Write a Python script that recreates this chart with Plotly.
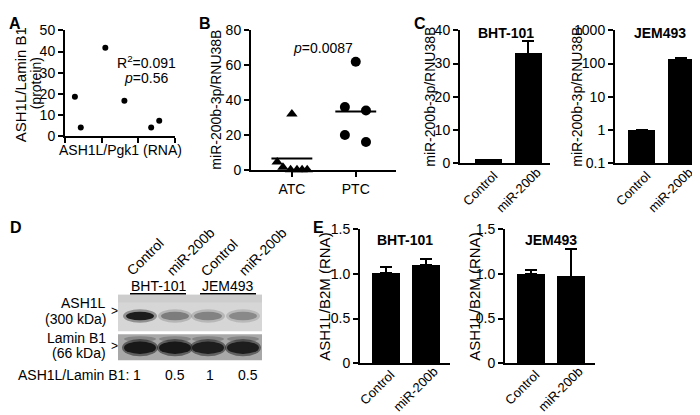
import plotly.graph_objects as go

W, H = 700, 415
FONT = "Liberation Sans, Arial, sans-serif"

# ---------------- data ----------------
# Panel A
a_rna = [2.7, 4.3, 11.0, 16.2, 23.5, 25.7]
a_protein = [18.7, 4.1, 41.8, 16.8, 4.1, 7.3]
a_xticks = [0, 10, 20, 30]
a_yticks = [0, 10, 20, 30, 40, 50]

# Panel B
b_groups = ["ATC", "PTC"]
b_atc = [32, 4.5, 1.5, 0, 0, 0, 0]
b_ptc = [62, 36, 34, 20, 16]
b_means = [6.5, 33.5]
b_yticks = [0, 20, 40, 60, 80]

# Panel C
c_categories = ["Control", "miR-200b"]
c_bht_values = [1.0, 33.0]
c_bht_err = [0.0, 3.8]
c_jem_values = [1.0, 130.0]
c_jem_err = [0.0, 22.0]
c_bht_yticks = [0, 10, 20, 30, 40]
c_jem_yticks = [0.1, 1, 10, 100, 1000]
c_jem_yticklabels = ["0.1", "1", "10", "100", "1000"]

# Panel D
d_lanes = ["Control", "miR-200b", "Control", "miR-200b"]
d_cell_lines = ["BHT-101", "JEM493"]
d_ratio = ["1", "0.5", "1", "0.5"]
d_ash1l_band = [1.0, 0.45, 0.42, 0.38]
d_lamin_band = [1.0, 1.0, 0.95, 0.95]

# Panel E
e_bht_values = [1.01, 1.10]
e_bht_err = [0.07, 0.07]
e_jem_values = [1.00, 0.97]
e_jem_err = [0.04, 0.31]
e_yticks = [0, 0.5, 1.0, 1.5]
e_yticklabels = ["0", "0.5", "1.0", "1.5"]

# ---------------- layout helpers ----------------
def dx(x0, x1):
    return [x0 / W, x1 / W]

def dy(top, bot):
    return [1 - bot / H, 1 - top / H]

annotations = []
shapes = []

def ann(text, x, y, size=14, angle=0, xanchor="center", yanchor="middle", color="black"):
    annotations.append(dict(text=text, x=x / W, y=1 - y / H, xref="paper", yref="paper",
                            showarrow=False, textangle=angle, xanchor=xanchor, yanchor=yanchor,
                            font=dict(size=size, color=color, family=FONT)))

def rect(x0, y0, x1, y1, color, layer="below"):
    shapes.append(dict(type="rect", xref="paper", yref="paper", x0=x0 / W, x1=x1 / W,
                       y0=1 - y1 / H, y1=1 - y0 / H, fillcolor=color, line=dict(width=0), layer=layer))

def ellipse(cx, cy, w, h, color, opacity=1.0):
    shapes.append(dict(type="circle", xref="paper", yref="paper", x0=(cx - w / 2) / W, x1=(cx + w / 2) / W,
                       y0=1 - (cy + h / 2) / H, y1=1 - (cy - h / 2) / H, fillcolor=color,
                       opacity=opacity, line=dict(width=0), layer="above"))

def line(x0, y0, x1, y1, width=1.5):
    shapes.append(dict(type="line", xref="paper", yref="paper", x0=x0 / W, x1=x1 / W,
                       y0=1 - y0 / H, y1=1 - y1 / H, line=dict(color="black", width=width)))

base_axis = dict(showline=True, linecolor="black", linewidth=2, ticks="outside", ticklen=5,
                 tickwidth=2, tickcolor="black", showgrid=False, zeroline=False,
                 tickfont=dict(size=14, color="black", family=FONT))

fig = go.Figure()

# ---------------- Panel A ----------------
fig.add_trace(go.Scatter(x=a_rna, y=a_protein, mode="markers", xaxis="x", yaxis="y",
                         marker=dict(color="black", size=6), cliponaxis=False))

# ---------------- Panel B ----------------
atc_jitter = [0.0, -0.23, -0.14, -0.02, 0.08, 0.16, 0.24]
ptc_jitter = [0.0, -0.17, 0.16, -0.17, 0.16]
fig.add_trace(go.Scatter(x=[0 + j for j in atc_jitter], y=b_atc, mode="markers", xaxis="x2", yaxis="y2",
                         marker=dict(color="black", size=10, symbol="triangle-up"), cliponaxis=False))
fig.add_trace(go.Scatter(x=[1 + j for j in ptc_jitter], y=b_ptc, mode="markers", xaxis="x2", yaxis="y2",
                         marker=dict(color="black", size=10, symbol="circle"), cliponaxis=False))
for i, m in enumerate(b_means):
    fig.add_trace(go.Scatter(x=[i - 0.32, i + 0.32], y=[m, m], mode="lines", xaxis="x2", yaxis="y2",
                             line=dict(color="black", width=2), cliponaxis=False))

# ---------------- Panels C and E (bars) ----------------
def bars(vals, errs, xa, ya, width=0.68):
    fig.add_trace(go.Bar(x=[0, 1], y=vals, xaxis=xa, yaxis=ya, width=width,
                         marker=dict(color="black", line=dict(width=0)),
                         error_y=dict(type="data", array=errs, arrayminus=[0] * len(errs), symmetric=False,
                                      color="black", thickness=2, width=6)))

bars(c_bht_values, c_bht_err, "x3", "y3")
bars(c_jem_values, c_jem_err, "x4", "y4")
bars(e_bht_values, e_bht_err, "x5", "y5", width=0.72)
bars(e_jem_values, e_jem_err, "x6", "y6", width=0.72)

# ---------------- axes ----------------
def xa(domain, rng, tickvals, ticktext=None, ticks="outside", showlabels=True):
    d = dict(base_axis)
    d.update(domain=domain, range=rng, tickvals=tickvals, ticks=ticks, showticklabels=showlabels)
    if ticktext is not None:
        d["ticktext"] = ticktext
    return d

def ya(domain, rng, tickvals, ticktext=None, anchor=None, type_="linear"):
    d = dict(base_axis)
    d.update(domain=domain, range=rng, tickvals=tickvals, type=type_)
    if ticktext is not None:
        d["ticktext"] = ticktext
    if anchor:
        d["anchor"] = anchor
    return d

layout = dict(
    width=W, height=H, margin=dict(l=0, r=0, t=0, b=0), showlegend=False,
    paper_bgcolor="white", plot_bgcolor="white", bargap=0,
    font=dict(family=FONT, color="black"),
)
# A
layout["xaxis"] = xa(dx(57, 167), [0, 30], a_xticks, showlabels=False)
layout["xaxis"]["anchor"] = "y"
layout["yaxis"] = ya(dy(15, 125), [0, 50], a_yticks, anchor="x")
# B
layout["xaxis2"] = xa(dx(243, 388), [-0.64, 1.63], [0, 1], b_groups)
layout["xaxis2"]["anchor"] = "y2"
layout["yaxis2"] = ya(dy(15, 160), [0, 80], b_yticks, anchor="x2")
# C left
layout["xaxis3"] = xa(dx(452, 542), [-0.72, 1.55], [0, 1], ticks="", showlabels=False)
layout["xaxis3"]["anchor"] = "y3"
layout["yaxis3"] = ya(dy(15, 153), [0, 40], c_bht_yticks, anchor="x3")
# C right
layout["xaxis4"] = xa(dx(607, 697), [-0.68, 1.6], [0, 1], ticks="", showlabels=False)
layout["xaxis4"]["anchor"] = "y4"
layout["yaxis4"] = ya(dy(15, 153), [-1, 3], c_jem_yticks, c_jem_yticklabels, anchor="x4", type_="log")
# E left
layout["xaxis5"] = xa(dx(352, 442), [-0.65, 1.6], [0, 1], ticks="", showlabels=False)
layout["xaxis5"]["anchor"] = "y5"
layout["yaxis5"] = ya(dy(222, 361), [0, 1.5], e_yticks, e_yticklabels, anchor="x5")
# E right
layout["xaxis6"] = xa(dx(497, 587), [-0.65, 1.6], [0, 1], ticks="", showlabels=False)
layout["xaxis6"]["anchor"] = "y6"
layout["yaxis6"] = ya(dy(222, 361), [0, 1.5], e_yticks, e_yticklabels, anchor="x6")

# rotated category labels under the bar panels (text centres, px)
rot_label_pos = {
    "C_left": [(472, 179), (510, 181)],
    "C_right": [(625, 179), (662, 181)],
    "E_left": [(369, 386), (407, 388)],
    "E_right": [(514, 386), (552, 388)],
}
for key, pos in rot_label_pos.items():
    for (cx, cy), lab in zip(pos, c_categories):
        ann(lab, cx, cy, size=13, angle=-45)

# ---------------- annotations ----------------
# panel letters
ann("<b>A</b>", 7, 8, size=16)
ann("<b>B</b>", 197, 8, size=16)
ann("<b>C</b>", 412, 8, size=16)
ann("<b>D</b>", 8, 220, size=16)
ann("<b>E</b>", 310, 220, size=16)

# A text
ann("ASH1L/Lamin B1", 12, 72, size=15, angle=-90)
ann("(protein)", 28, 70, angle=-90)
ann("ASH1L/Pgk1 (RNA)", 112, 139)
ann("R<sup>2</sup>=0.091", 138, 48)
ann("<i>p</i>=0.56", 138, 65)

# B text
ann("miR-200b-3p/RNU38B", 208, 87, angle=-90)
ann("<i>p</i>=0.0087", 315, 33)

# C text
ann("miR-200b-3p/RNU38B", 422, 84, angle=-90)
ann("miR-200b-3p/RNU38B", 569, 84, angle=-90)
ann("<b>BHT-101</b>", 498, 18)
ann("<b>JEM493</b>", 652, 18)

# E text
ann("ASH1L/B2M (RNA)", 317, 292, size=15, angle=-90)
ann("ASH1L/B2M (RNA)", 467, 292, size=15, angle=-90)
ann("<b>BHT-101</b>", 397, 233)
ann("<b>JEM493</b>", 543, 233)

# D: blot
lane_x = [132, 167, 200, 235]
label_centers = [(137, 251), (182, 245), (211, 252), (254, 245)]
for (cx, cy), lab in zip(label_centers, d_lanes):
    ann(lab, cx, cy, angle=-45)
ann(d_cell_lines[0], 150, 281)
ann(d_cell_lines[1], 220, 281)
line(122, 289, 178, 289)
line(192, 289, 248, 289)

# upper blot (ASH1L)
rect(110, 290, 254, 328, "#d6d6d6")
rect(110, 290, 254, 298, "#cdcdcd")
for x, inten in zip(lane_x, d_ash1l_band):
    g = int(205 - inten * 190)
    col = "rgb(%d,%d,%d)" % (g, g, g)
    ellipse(x, 312, 34, 14, col, opacity=0.35)
    ellipse(x, 312, 28, 9, col, opacity=0.9)
# lower blot (Lamin B1)
rect(110, 331, 254, 358, "#a8a8a8")
for x, inten in zip(lane_x, d_lamin_band):
    g = int(120 - inten * 100)
    col = "rgb(%d,%d,%d)" % (g, g, g)
    ellipse(x, 336, 32, 6, "#6e6e6e", opacity=0.6)
    ellipse(x, 345, 36, 18, col, opacity=0.5)
    ellipse(x, 345, 32, 13, col, opacity=0.95)

ann("ASH1L", 100, 299, xanchor="right")
ann("(300 kDa)", 100, 315, xanchor="right")
ann(">", 106, 307, size=12)
ann("Lamin B1", 100, 335, xanchor="right")
ann("(66 kDa)", 100, 351, xanchor="right")
ann(">", 106, 343, size=12)

ann("ASH1L/Lamin B1:", 8, 373, xanchor="left")
for x, r in zip([129, 167, 202, 240], d_ratio):
    ann(r, x, 373)

layout["annotations"] = annotations
layout["shapes"] = shapes
fig.update_layout(**layout)

fig.write_html("out.html")
